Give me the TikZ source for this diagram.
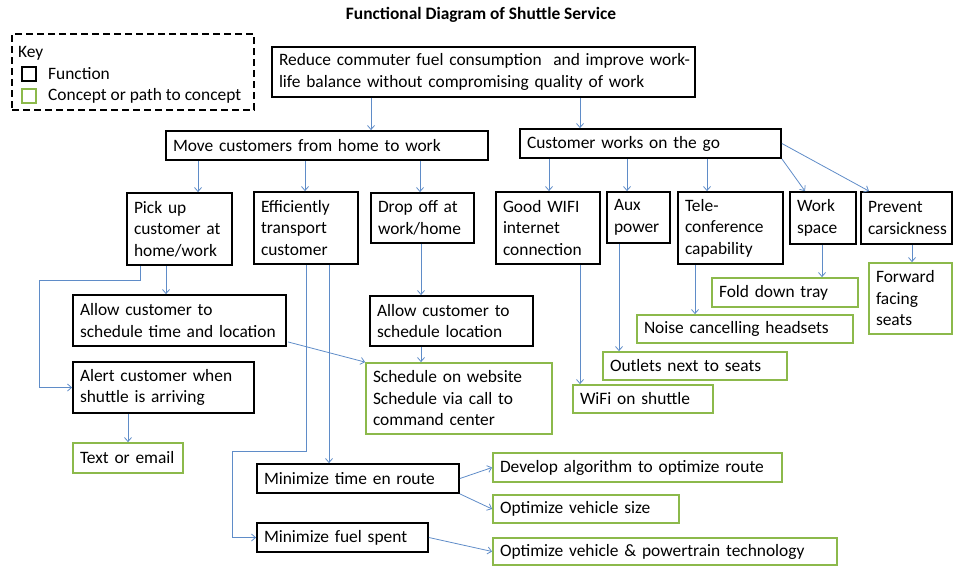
\documentclass[tikz,border=0pt]{standalone}
\usepackage{fontspec}
\setmainfont{Carlito}
\usetikzlibrary{arrows.meta,calc}
\definecolor{arrc}{RGB}{95,140,200}
\definecolor{grn}{RGB}{140,185,75}
\newcommand\dfont{\fontsize{17.4}{21.5}\selectfont}
\newcommand\bx[7]{%
  \pgfmathsetmacro\bxw{#4-#2}\pgfmathsetmacro\bxh{#5-#3}%
  \pgfmathsetmacro\bxcx{(#2+#4)/2}\pgfmathsetmacro\bxcy{(#3+#5)/2}%
  \pgfmathsetmacro\bxtw{#4-#2-14}%
  \node[#6, minimum width=\bxw pt, minimum height=\bxh pt, text width=\bxtw pt] (#1) at (\bxcx,\bxcy) {#7};}
\begin{document}
\begin{tikzpicture}[x=1pt,y=-1pt,
  funcbox/.style={draw=black, line width=1.8pt, rectangle, inner xsep=7pt, inner ysep=0pt, align=left, font=\dfont},
  concbox/.style={funcbox, draw=grn},
  arr/.style={draw=arrc, line width=0.8pt, -{Straight Barb[length=4pt,width=7pt]}},
  keybox/.style={draw=black, line width=1.6pt, dash pattern=on 7pt off 4pt, rectangle, inner sep=0pt},
  keysq/.style={line width=1.6pt, rectangle, minimum size=14pt, inner sep=0pt},
  keytxt/.style={anchor=west, inner sep=0pt, font=\dfont}]
\useasboundingbox (0,0) rectangle (953,566);

% title
\node[font=\bfseries\fontsize{17.4}{20}\selectfont, inner sep=0pt] (title) at (481,15) {Functional Diagram of Shuttle Service};

% key
\node[keybox, minimum width=242pt, minimum height=76pt] (key) at (133,72) {};
\node[keytxt] (keyk) at (18,53) {Key};
\node[keysq, draw=black] (ksq1) at (29,74) {};
\node[keytxt] (kf) at (48,74) {Function};
\node[keysq, draw=grn] (ksq2) at (29,96) {};
\node[keytxt] (kc) at (48,96) {Concept or path to concept};

% function boxes
\bx{top}{272}{47}{695}{97}{funcbox}{\mbox{Reduce commuter fuel consumption\ \ and improve work-}\\\mbox{life balance without compromising quality of work}}
\bx{move}{166}{131}{488}{160}{funcbox}{Move customers from home to work}
\bx{works}{520}{129}{781}{158}{funcbox}{Customer works on the go}
\bx{pick}{127}{193}{232}{265}{funcbox}{Pick up\\customer at\\home/work}
\bx{eff}{254}{192}{358}{264}{funcbox}{Efficiently\\transport\\customer}
\bx{drop}{371}{193}{474}{243}{funcbox}{Drop off at\\work/home}
\bx{allowa}{73}{295}{286}{346}{funcbox}{Allow customer to\\\mbox{schedule time and location}}
\bx{alert}{73}{362}{254}{413}{funcbox}{\mbox{Alert customer when}\\shuttle is arriving}
\bx{allowb}{370}{296}{533}{346}{funcbox}{Allow customer to\\schedule location}
\bx{wifi}{496}{192}{600}{264}{funcbox}{Good WIFI\\internet\\connection}
\bx{aux}{607}{192}{670}{243}{funcbox}{Aux\\power}
\bx{tele}{678}{192}{783}{264}{funcbox}{Tele-\\conference\\capability}
\bx{space}{790}{192}{856}{244}{funcbox}{Work\\space}
\bx{prevent}{861}{192}{952}{244}{funcbox}{Prevent\\carsickness}
\bx{time}{257}{464}{459}{493}{funcbox}{Minimize time en route}
\bx{fuel}{257}{523}{428}{552}{funcbox}{Minimize fuel spent}

% concept boxes
\bx{textem}{73}{443}{183}{473}{concbox}{Text or email}
\bx{sched}{366}{363}{552}{434}{concbox}{Schedule on website\\\mbox{Schedule via call to}\\command center}
\bx{forward}{869}{263}{952}{334}{concbox}{Forward\\facing\\seats}
\bx{tray}{712}{278}{858}{307}{concbox}{Fold down tray}
\bx{noise}{637}{315}{853}{343}{concbox}{\mbox{Noise cancelling headsets}}
\bx{outlets}{603}{352}{787}{380}{concbox}{Outlets next to seats}
\bx{wifis}{573}{385}{713}{413}{concbox}{WiFi on shuttle}
\bx{algo}{493}{453}{782}{482}{concbox}{\mbox{Develop algorithm to optimize route}}
\bx{size}{493}{495}{679}{523}{concbox}{Optimize vehicle size}
\bx{power}{493}{538}{837}{565}{concbox}{\mbox{Optimize vehicle \& powertrain technology}}

% connectors
\draw[arr] (371,0 |- top.south) -- (371,0 |- move.north);
\draw[arr] (580,0 |- top.south) -- (580,0 |- works.north);
\draw[arr] (198,0 |- move.south) -- (198,0 |- pick.north);
\draw[arr] (305,0 |- move.south) -- (305,0 |- eff.north);
\draw[arr] (420,0 |- move.south) -- (420,0 |- drop.north);
\draw[arr] (549,0 |- works.south) -- (549,0 |- wifi.north);
\draw[arr] (627,0 |- works.south) -- (627,0 |- aux.north);
\draw[arr] (707,0 |- works.south) -- (707,0 |- tele.north);
\draw[arr] (works.south east) -- (805,0 |- space.north);
\draw[arr] (works.east) -- (869,0 |- prevent.north);
\draw[arr] (822,0 |- space.south) -- (822,0 |- tray.north);
\draw[arr] (912,0 |- prevent.south) -- (912,0 |- forward.north);
\draw[arr] (695,0 |- tele.south) -- (695,0 |- noise.north);
\draw[arr] (619,0 |- aux.south) -- (619,0 |- outlets.north);
\draw[arr] (580,0 |- wifi.south) -- (580,0 |- wifis.north);
\draw[arr] (166,0 |- pick.south) -- (166,0 |- allowa.north);
\draw[arr] (140,0 |- pick.south) |- (39,280) |- (alert.west);
\draw[arr] (128,0 |- alert.south) -- (128,0 |- textem.north);
\draw[arr] ($(allowa.south east)+(1,-5)$) -- (sched.north west);
\draw[arr] (421,0 |- drop.south) -- (421,0 |- allowb.north);
\draw[arr] (421,0 |- allowb.south) -- (421,0 |- sched.north);
\draw[arr] (306,0 |- eff.south) |- (232,451) |- (fuel.west);
\draw[arr] (329,0 |- eff.south) -- (329,0 |- time.north);
\draw[arr] (time.east) -- (algo.west);
\draw[arr] (time.south east) -- (size.west);
\draw[arr] (fuel.east) -- (power.west);
\end{tikzpicture}
\end{document}
